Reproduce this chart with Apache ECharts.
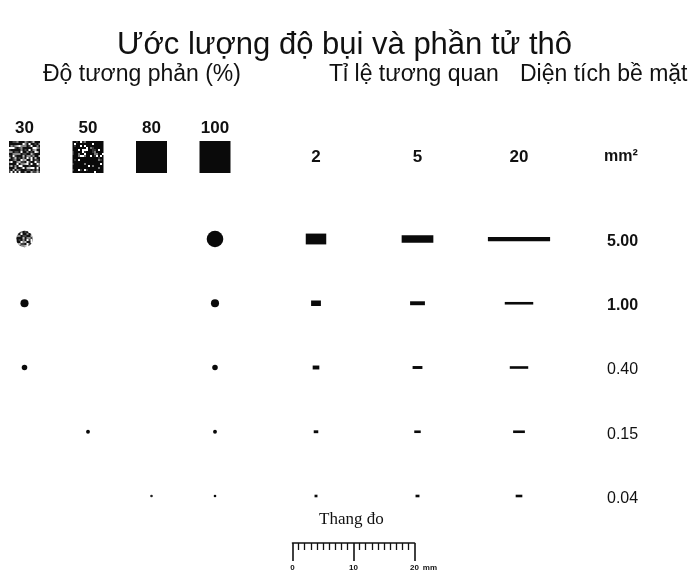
<!DOCTYPE html>
<html><head><meta charset="utf-8">
<script src="https://cdn.jsdelivr.net/npm/echarts@6/dist/echarts.min.js"></script>
<style>html,body{margin:0;padding:0;background:#fff}#c{width:689px;height:576px}</style>
</head><body><div id="c"></div>
<script>
// ---- data ----
const titleText = 'Ước lượng độ bụi và phần tử thô';
const contrastTitle = 'Độ tương phản (%)';
const ratioTitle = 'Tỉ lệ tương quan';
const areaTitle = 'Diện tích bề mặt';
const contrastCols = ['30', '50', '80', '100'];
const ratioCols = ['2', '5', '20'];
const ratioValues = [2, 5, 20];
const areaRows = ['5.00', '1.00', '0.40', '0.15', '0.04'];
const areaValues = [5.00, 1.00, 0.40, 0.15, 0.04];
// dots visible in the contrast block: [contrast column, area row]
const contrastDots = [['30','5.00'],['30','1.00'],['30','0.40'],['50','0.15'],['80','0.04'],
  ['100','5.00'],['100','1.00'],['100','0.40'],['100','0.15'],['100','0.04']];
const rulerMin = 0, rulerMax = 20, rulerStep = 10;
const rulerUnit = 'mm';
const areaUnit = 'mm²';
const scaleTitle = 'Thang đo';

// ---- helpers (texture style only) ----
function speckle(levels, seed) {
  const n = 48, c = document.createElement('canvas');
  c.width = c.height = n;
  const ctx = c.getContext('2d');
  ctx.fillStyle = '#fff'; ctx.fillRect(0, 0, n, n);
  let s = seed >>> 0;
  for (let y = 0; y < n; y += 2) for (let x = 0; x < n; x += 2) {
    s = (Math.imul(s, 1664525) + 1013904223) >>> 0;
    const v = s / 4294967296;
    let col = '#fff';
    for (const [t, cc] of levels) { if (v < t) { col = cc; break; } }
    ctx.fillStyle = col; ctx.fillRect(x, y, 2, 2);
  }
  return c;
}
const tex30 = speckle([[0.45, '#111'], [0.62, '#444'], [0.76, '#888'], [0.86, '#bbb']], 7);
const tex50 = speckle([[0.80, '#0a0a0a'], [0.88, '#333'], [0.93, '#777']], 11);
// symbols are drawn at unit size 2 and scaled, so undo that scale on the texture
function textured(col, w, h) {
  const img = col === '30' ? tex30 : tex50;
  return { image: img, repeat: 'repeat', scaleX: 2 / w, scaleY: 2 / h };
}
function contrastColor(col, w, h) {
  if (w > 10 && (col === '30' || col === '50')) return textured(col, w, h);
  return col === '80' && w < 10 ? '#222' : '#0a0a0a';
}
const areaOf = r => areaValues[areaRows.indexOf(r)];

const FONT = '"Liberation Sans", Arial, sans-serif';
const chart = echarts.init(document.getElementById('c'), null, { renderer: 'canvas' });

const rowsTop = 239, rowsHeight = 257;
const SW = [31, 32];
function buildOption(ppm) {
  const spread = 1.2;
  const circle = a => Math.max(2 * Math.sqrt(a / Math.PI) * ppm + spread, 2.6);
  return {
    backgroundColor: '#fff',
    animation: false,
    title: { text: titleText, left: 'center', top: 25,
      textStyle: { fontFamily: FONT, fontSize: 31, fontWeight: 'normal', color: '#111' } },
    graphic: [
      { type: 'text', left: 43, top: 63, style: { text: contrastTitle, font: '23px ' + FONT, fill: '#111' } },
      { type: 'text', left: 329, top: 63, style: { text: ratioTitle, font: '23px ' + FONT, fill: '#111' } },
      { type: 'text', left: 520, top: 63, style: { text: areaTitle, font: '23px ' + FONT, fill: '#111' } },
      { type: 'text', left: 604, top: 149, style: { text: areaUnit, font: 'bold 16px ' + FONT, fill: '#111' } },
      { type: 'text', left: 319, top: 511, style: { text: scaleTitle, font: '17px "Liberation Serif", "DejaVu Serif", serif', fill: '#111' } }
    ],
    grid: [
      { left: 24.5, width: 190.5, top: rowsTop, height: rowsHeight },
      { left: 316, width: 203, top: rowsTop, height: rowsHeight },
      { left: 24.5, width: 190.5, top: 156, height: 2 },
      { left: 292.5, width: 122, top: 520, height: 23 }
    ],
    xAxis: [
      { type: 'category', gridIndex: 0, data: contrastCols, boundaryGap: false, show: false },
      { type: 'category', gridIndex: 1, data: ratioCols, boundaryGap: false, position: 'top',
        axisLine: { show: false }, axisTick: { show: false },
        axisLabel: { margin: 73, fontFamily: FONT, fontSize: 17, fontWeight: 'bold', color: '#111' } },
      { type: 'category', gridIndex: 2, data: contrastCols, boundaryGap: false, position: 'top',
        axisLine: { show: false }, axisTick: { show: false },
        axisLabel: { margin: 19, fontFamily: FONT, fontSize: 17, fontWeight: 'bold', color: '#111' } },
      { type: 'value', gridIndex: 3, min: rulerMin, max: rulerMax, interval: rulerStep, position: 'bottom',
        axisLine: { show: true, lineStyle: { color: '#111', width: 1.6 } },
        axisTick: { show: true, length: 18, lineStyle: { color: '#111', width: 1.6 } },
        minorTick: { show: true, splitNumber: 10, length: 7, lineStyle: { color: '#111', width: 1.3 } },
        splitLine: { show: false },
        axisLabel: { margin: 21, fontFamily: FONT, fontSize: 8, fontWeight: 'bold', color: '#111' },
        name: rulerUnit, nameLocation: 'end', nameGap: 4,
        nameTextStyle: { fontFamily: FONT, fontSize: 8, fontWeight: 'bold', color: '#111',
          verticalAlign: 'top', padding: [21, 0, 0, 0] } }
    ],
    yAxis: [
      { type: 'category', gridIndex: 0, data: areaRows, inverse: true, boundaryGap: false, show: false },
      { type: 'category', gridIndex: 1, data: areaRows, inverse: true, boundaryGap: false, position: 'right',
        axisLine: { show: false }, axisTick: { show: false }, splitLine: { show: false },
        axisLabel: { margin: 88, align: 'left', fontFamily: FONT, fontSize: 16, color: '#111', padding: [5, 0, 0, 0],
          formatter: (v, i) => i < 2 ? '{b|' + v + '}' : v,
          rich: { b: { fontFamily: FONT, fontSize: 16, fontWeight: 'bold', color: '#111' } } } },
      { type: 'category', gridIndex: 2, data: ['swatch'], show: false },
      { type: 'value', gridIndex: 3, show: false }
    ],
    series: [
      { type: 'scatter', xAxisIndex: 2, yAxisIndex: 2, symbol: 'rect', symbolSize: SW,
        itemStyle: { opacity: 1 },
        data: contrastCols.map(c => ({ value: [c, 'swatch'],
          itemStyle: { opacity: 1, color: contrastColor(c, SW[0], SW[1]) } })) },
      { type: 'scatter', xAxisIndex: 0, yAxisIndex: 0, symbol: 'circle', itemStyle: { opacity: 1 },
        data: contrastDots.map(([c, r]) => {
          const s = circle(areaOf(r));
          return { value: [c, r, areaOf(r)], symbolSize: s, itemStyle: { opacity: 1, color: contrastColor(c, s, s) } };
        }) },
      { type: 'scatter', xAxisIndex: 1, yAxisIndex: 1, symbol: 'rect', itemStyle: { opacity: 1 },
        data: ratioCols.flatMap((c, ci) => areaRows.map((r, ri) => {
          const a = areaValues[ri], k = ratioValues[ci];
          const w = Math.sqrt(a * k) * ppm + spread, h = Math.max(Math.sqrt(a / k) * ppm + spread, 2.6);
          return { value: [c, r, a, k], symbolSize: [w, h], itemStyle: { opacity: 1, color: '#0a0a0a' } };
        })) }
    ]
  };
}
chart.setOption(buildOption(6));
const p0 = chart.convertToPixel({ xAxisIndex: 3 }, rulerMin);
const p1 = chart.convertToPixel({ xAxisIndex: 3 }, rulerMax);
const ppm = (p1 - p0) / (rulerMax - rulerMin);
chart.setOption(buildOption(ppm), true);
</script></body></html>
